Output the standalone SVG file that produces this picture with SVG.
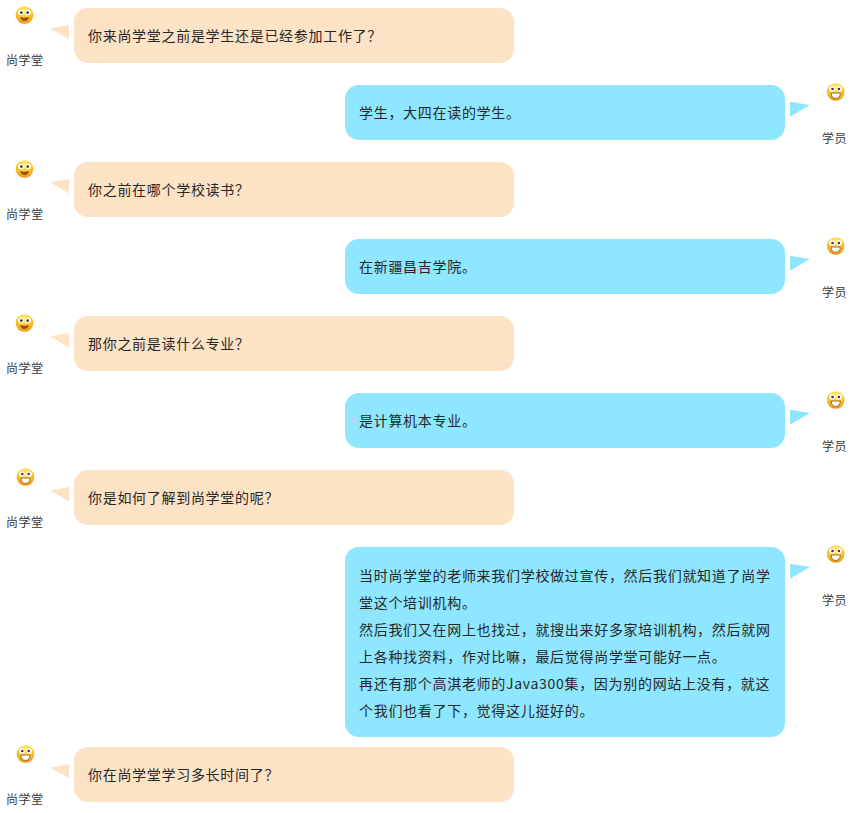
<svg xmlns="http://www.w3.org/2000/svg" width="853" height="813" viewBox="0 0 853 813">
<style>
text{font-family:"Noto Sans CJK SC","Noto Sans",sans-serif;fill:#262626}
.msg{font-size:14px;letter-spacing:.7px}
.who{font-size:12px;letter-spacing:.5px;fill:#383838}
.t{fill:#fde3c5}
.s{fill:#8ee7ff}
</style>
<defs>
<radialGradient id="g" cx="50%" cy="25%" r="75%"><stop offset="0" stop-color="#fff07a"/><stop offset=".55" stop-color="#fbcb2e"/><stop offset="1" stop-color="#ec9312"/></radialGradient>
<g id="smile"><circle r="8.8" fill="url(#g)"/><circle cx="-3.6" cy="-2.6" r="2.7" fill="#fff"/><circle cx="3.6" cy="-2.6" r="2.7" fill="#fff"/><circle cx="-3.2" cy="-2.4" r="1.3" fill="#4a2a20"/><circle cx="3.2" cy="-2.4" r="1.3" fill="#4a2a20"/><path d="M-4.4 2Q0 3.6 4.4 2Q3.6 6 0 6Q-3.6 6-4.4 2Z" fill="#96500f"/></g>
<g id="grin"><circle r="8.8" fill="url(#g)"/><circle cx="-3.6" cy="-3" r="2.7" fill="#fff"/><circle cx="3.6" cy="-3" r="2.7" fill="#fff"/><circle cx="-3.2" cy="-3" r="1.3" fill="#5a2a50"/><circle cx="3.2" cy="-3" r="1.3" fill="#5a2a50"/><path d="M-4.6 1H4.6Q4.4 6.4 0 6.4Q-4.4 6.4-4.6 1Z" fill="#fff" stroke="#8a4a10" stroke-width=".8"/></g>
</defs>

<g id="connectors"></g>

<g id="q1"><use href="#smile" x="24.5" y="15"/><text class="who" x="6" y="65">尚学堂</text><path class="t" d="M50 28.5L69 25V39.5Z"/><rect class="t" x="74" y="8" width="440" height="55" rx="14"/><text class="msg" x="88" y="41">你来尚学堂之前是学生还是已经参加工作了？</text></g>

<g id="a1"><use href="#grin" x="835.7" y="92"/><text class="who" x="822" y="143">学员</text><path class="s" d="M810 105L790 101.7V116.7Z"/><rect class="s" x="345" y="85" width="440" height="55" rx="14"/><text class="msg" x="359" y="118">学生，大四在读的学生。</text></g>

<g id="q2"><use href="#smile" x="24.5" y="169"/><text class="who" x="6" y="219">尚学堂</text><path class="t" d="M50 182.5L69 179V193.5Z"/><rect class="t" x="74" y="162" width="440" height="55" rx="14"/><text class="msg" x="88" y="195">你之前在哪个学校读书？</text></g>

<g id="a2"><use href="#grin" x="835.7" y="246"/><text class="who" x="822" y="297">学员</text><path class="s" d="M810 259L790 255.7V270.7Z"/><rect class="s" x="345" y="239" width="440" height="55" rx="14"/><text class="msg" x="359" y="272">在新疆昌吉学院。</text></g>

<g id="q3"><use href="#smile" x="24.5" y="323"/><text class="who" x="6" y="373">尚学堂</text><path class="t" d="M50 336.5L69 333V347.5Z"/><rect class="t" x="74" y="316" width="440" height="55" rx="14"/><text class="msg" x="88" y="349">那你之前是读什么专业？</text></g>

<g id="a3"><use href="#grin" x="835.7" y="400"/><text class="who" x="822" y="451">学员</text><path class="s" d="M810 413L790 409.7V424.7Z"/><rect class="s" x="345" y="393" width="440" height="55" rx="14"/><text class="msg" x="359" y="426">是计算机本专业。</text></g>

<g id="q4"><use href="#grin" x="25.5" y="477"/><text class="who" x="6" y="527">尚学堂</text><path class="t" d="M50 490.5L69 487V501.5Z"/><rect class="t" x="74" y="470" width="440" height="55" rx="14"/><text class="msg" x="88" y="503">你是如何了解到尚学堂的呢？</text></g>

<g id="a4"><use href="#grin" x="835.7" y="554"/><text class="who" x="822" y="605">学员</text><path class="s" d="M810 567L790 563.7V578.7Z"/><rect class="s" x="345" y="547" width="440" height="190" rx="14"/>
<text class="msg" x="359" y="581">当时尚学堂的老师来我们学校做过宣传，然后我们就知道了尚学</text>
<text class="msg" x="359" y="608">堂这个培训机构。</text>
<text class="msg" x="359" y="635">然后我们又在网上也找过，就搜出来好多家培训机构，然后就网</text>
<text class="msg" x="359" y="662">上各种找资料，作对比嘛，最后觉得尚学堂可能好一点。</text>
<text class="msg" x="359" y="689">再还有那个高淇老师的Java300集，因为别的网站上没有，就这</text>
<text class="msg" x="359" y="716">个我们也看了下，觉得这儿挺好的。</text></g>

<g id="q5"><use href="#grin" x="25.5" y="754"/><text class="who" x="6" y="804">尚学堂</text><path class="t" d="M50 767.5L69 764V778.5Z"/><rect class="t" x="74" y="747" width="440" height="55" rx="14"/><text class="msg" x="88" y="780">你在尚学堂学习多长时间了？</text></g>
</svg>
